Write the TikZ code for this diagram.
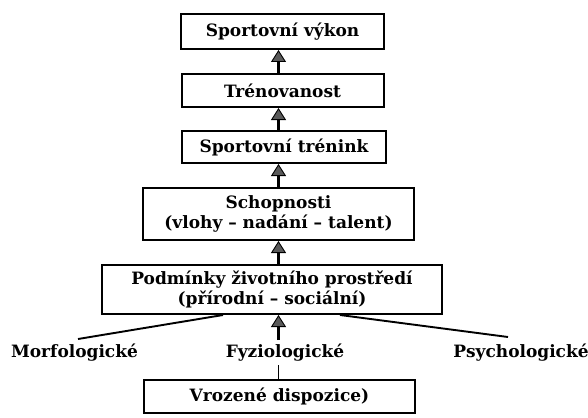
\documentclass[tikz,border=0pt]{standalone}
\usepackage{fontspec}
\setmainfont{DejaVu Serif}
\usetikzlibrary{arrows.meta}
\tikzset{
  boxnode/.style={draw=black, line width=2pt, inner sep=0pt, align=center,
    font=\bfseries\fontsize{17}{20}\selectfont},
  lbl/.style={inner sep=1pt, font=\bfseries\fontsize{17}{20}\selectfont},
  uparrow/.style={line width=2.2pt, -{Triangle[width=15pt,length=12pt,fill=black!65,line width=0.9pt]}},
  plain/.style={line width=1.9pt}
}
\begin{document}
\begin{tikzpicture}[x=1pt,y=-1pt]
\useasboundingbox (0,0) rectangle (588,417);
\coordinate (ax) at (278.5,0);
\node[boxnode, minimum width=203pt, minimum height=35pt] (b1) at (282.5,31.5) {Sportovní výkon};
\node[boxnode, minimum width=202pt, minimum height=33pt] (b2) at (282.5,90.5) {Trénovanost};
\node[boxnode, minimum width=204pt, minimum height=32pt] (b3) at (284,147) {Sportovní trénink};
\node[boxnode, minimum width=271pt, minimum height=52pt] (b4) at (278.5,214) {Schopnosti\\(vlohy – nadání – talent)};
\node[boxnode, minimum width=340pt, minimum height=49pt] (b5) at (272,289.5) {Podmínky životního prostředí\\(přírodní – sociální)};
\node[boxnode, minimum width=271pt, minimum height=33pt] (b6) at (279.5,396.5) {Vrozené dispozice)};
\node[lbl] (morf) at (74.5,353) {Morfologické};
\node[lbl] (fyz) at (285,353) {Fyziologické};
\node[lbl] (psy) at (521,353) {Psychologické};
\coordinate (mend) at (78,339);
\coordinate (pend) at (508,337);
\draw[uparrow] (b2.north -| ax) -- (b1.south -| ax);
\draw[uparrow] (b3.north -| ax) -- (b2.south -| ax);
\draw[uparrow] (b4.north -| ax) -- (b3.south -| ax);
\draw[uparrow] (b5.north -| ax) -- (b4.south -| ax);
\draw[uparrow] ([yshift=3pt]fyz.north -| ax) -- (b5.south -| ax);
\draw[plain] (b6.north -| ax) -- ([yshift=-2.5pt]fyz.south -| ax);
\draw[plain] (b5.south -| 223,0) -- (mend);
\draw[plain] (b5.south -| 340,0) -- (pend);
\end{tikzpicture}
\end{document}
